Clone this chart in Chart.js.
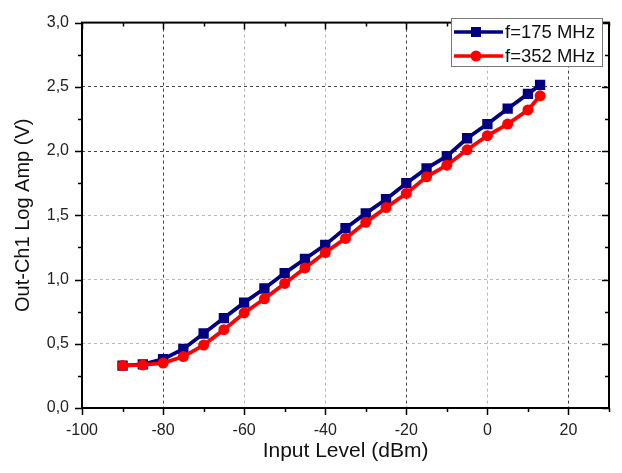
<!DOCTYPE html>
<html>
<head>
<meta charset="utf-8">
<script src="https://cdn.jsdelivr.net/npm/chart.js@4"></script>
<style>
html,body{margin:0;padding:0;background:#fff;}
#wrap{width:622px;height:473px;}
</style>
</head>
<body>
<div id="wrap"><canvas id="c" width="622" height="473"></canvas></div>
<script>
const inputLevel = [-90,-85,-80,-75,-70,-65,-60,-55,-50,-45,-40,-35,-30,-25,-20,-15,-10,-5,0,5,10,13];
const out175 = [0.33,0.34,0.38,0.46,0.58,0.70,0.82,0.93,1.05,1.16,1.27,1.40,1.515,1.625,1.75,1.865,1.96,2.10,2.21,2.33,2.445,2.515];
const out352 = [0.33,0.335,0.35,0.40,0.49,0.61,0.74,0.85,0.97,1.09,1.21,1.32,1.445,1.56,1.67,1.80,1.89,2.01,2.12,2.21,2.32,2.43];
const seriesNames = ['f=175 MHz','f=352 MHz'];
const seriesColors = ['#000080','#ff0000'];
const xTitle = 'Input Level (dBm)';
const yTitle = 'Out-Ch1 Log Amp (V)';

const FONT = "'Liberation Sans', Arial, sans-serif";
const darkX = [-80,-20,20], darkY = [2.5,2.0];

function pts(ys){ return inputLevel.map((x,i)=>({x:x,y:ys[i]})); }

const framePlugin = {
  id:'frame',
  afterDraw(chart){
    const ctx = chart.ctx, a = chart.chartArea;
    const xs = chart.scales.x, ys = chart.scales.y;
    ctx.save();
    ctx.strokeStyle = '#000';
    ctx.lineWidth = 1.5;
    ctx.beginPath();
    xs.ticks.forEach(t=>{
      const v = t.value, px = Math.round(xs.getPixelForValue(v))+0.5;
      const L = (Math.abs(v%20)<1e-6)?7:4;
      ctx.moveTo(px,a.bottom); ctx.lineTo(px,a.bottom+L);
      ctx.moveTo(px,a.top); ctx.lineTo(px,a.top+L);
    });
    ys.ticks.forEach(t=>{
      const v = t.value, py = Math.round(ys.getPixelForValue(v))+0.5;
      const r = Math.abs(v/0.5 - Math.round(v/0.5));
      const L = (r<1e-6)?7:4;
      ctx.moveTo(a.left,py); ctx.lineTo(a.left-L,py);
      ctx.moveTo(a.right,py); ctx.lineTo(a.right-L,py);
    });
    ctx.stroke();
    ctx.lineWidth = 2;
    ctx.strokeRect(a.left, a.top, a.right-a.left, a.bottom-a.top);

    // legend
    const bx = 451, by = 18, bw = 151, bh = 48;
    ctx.fillStyle = '#fff';
    ctx.fillRect(bx,by,bw,bh);
    ctx.strokeStyle = '#777';
    ctx.lineWidth = 1;
    ctx.strokeRect(bx+0.5,by+0.5,bw,bh);
    const rows = [32,56];
    chart.data.datasets.slice().sort((p,q)=>p.legendIndex-q.legendIndex).forEach((ds,i)=>{
      const y = rows[i];
      ctx.strokeStyle = ds.borderColor;
      ctx.lineWidth = 3.5;
      ctx.beginPath(); ctx.moveTo(454,y); ctx.lineTo(503,y); ctx.stroke();
      ctx.fillStyle = ds.borderColor;
      if(ds.pointStyle==='rect'){ ctx.fillRect(471,y-5,10,10); }
      else { ctx.beginPath(); ctx.arc(476,y,5.5,0,Math.PI*2); ctx.fill(); }
      ctx.fillStyle = '#111';
      ctx.font = '18.5px '+FONT;
      ctx.textBaseline = 'middle';
      ctx.textAlign = 'left';
      ctx.fillText(ds.label, 505, y+1);
    });
    ctx.restore();
  }
};

new Chart(document.getElementById('c'), {
  type:'line',
  data:{
    datasets:[
      {label:seriesNames[1], legendIndex:1, data:pts(out352), borderColor:seriesColors[1], backgroundColor:seriesColors[1],
       borderWidth:3.8, pointStyle:'circle', pointRadius:5.5, pointBorderWidth:0, order:0, tension:0},
      {label:seriesNames[0], legendIndex:0, data:pts(out175), borderColor:seriesColors[0], backgroundColor:seriesColors[0],
       borderWidth:3.8, pointStyle:'rect', pointRadius:7.3, pointBorderWidth:0, order:1, tension:0}
    ]
  },
  options:{
    responsive:false,
    animation:false,
    layout:{padding:{top:16,right:7,left:0,bottom:0}},
    plugins:{legend:{display:false},tooltip:{enabled:false}},
    scales:{
      x:{
        type:'linear', min:-100, max:30,
        afterFit(s){ s.height = 65; },
        ticks:{stepSize:10, autoSkip:false, maxRotation:0, padding:13, color:'#222',
          font:{family:FONT,size:16},
          callback:(v)=> (Math.abs(v%20)<1e-6)? String(v) : ''},
        grid:{drawTicks:false, lineWidth:1,
          color:(c)=>{ const v=c.tick&&c.tick.value; if(v===undefined||v<=-100||v>=30||Math.abs(v%20)>1e-6) return 'rgba(0,0,0,0)'; return darkX.includes(v)?'#444':'#b8b8b8'; }},
        border:{display:false, dash:[3,3]},
        title:{display:true, text:xTitle, color:'#111', font:{family:FONT,size:21}, padding:{top:0,bottom:9}}
      },
      y:{
        type:'linear', min:0, max:3,
        afterFit(s){ s.width = 82; },
        ticks:{stepSize:0.25, autoSkip:false, padding:13, color:'#222',
          font:{family:FONT,size:16},
          callback:(v)=>{ const r=Math.abs(v/0.5-Math.round(v/0.5)); return r<1e-6 ? v.toFixed(1).replace('.',',') : ''; }},
        grid:{drawTicks:false, lineWidth:1,
          color:(c)=>{ const v=c.tick&&c.tick.value; if(v===undefined||v<=0||v>=3) return 'rgba(0,0,0,0)'; const r=Math.abs(v/0.5-Math.round(v/0.5)); if(r>1e-6) return 'rgba(0,0,0,0)'; return darkY.some(d=>Math.abs(d-v)<1e-6)?'#444':'#b8b8b8'; }},
        border:{display:false, dash:[3,3]},
        title:{display:true, text:yTitle, color:'#111', font:{family:FONT,size:20}, padding:{top:11,bottom:0}}
      }
    }
  },
  plugins:[framePlugin]
});
</script>
</body>
</html>
